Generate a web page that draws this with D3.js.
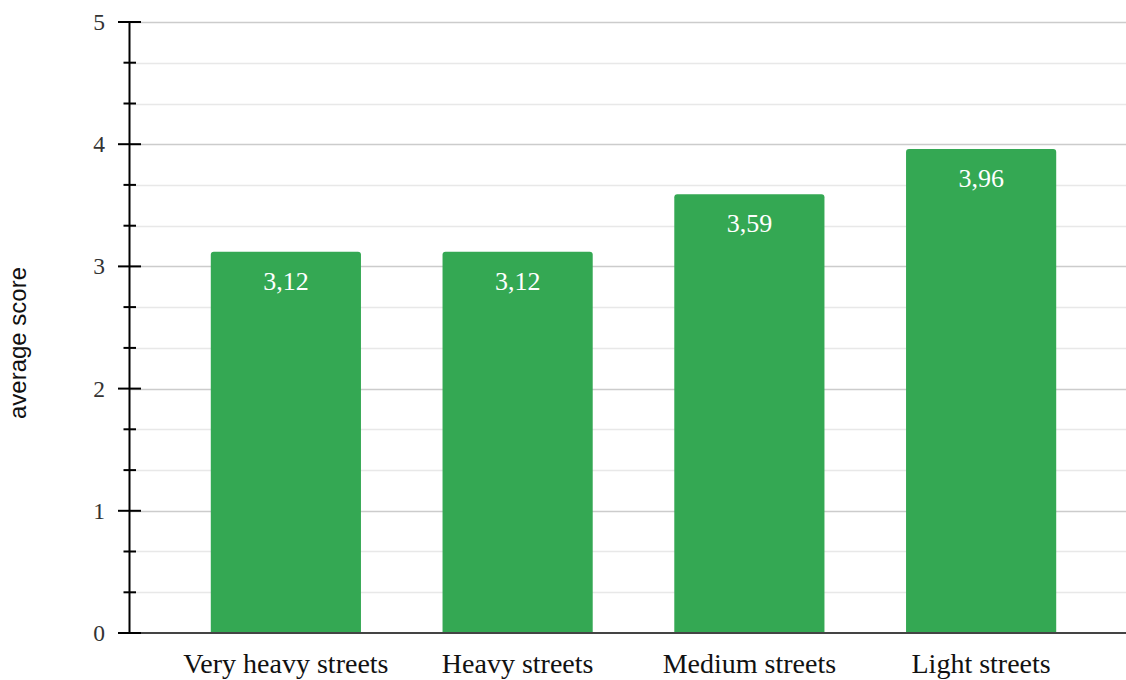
<!DOCTYPE html>
<html><head><meta charset="utf-8">
<script src="https://cdn.jsdelivr.net/npm/d3@7"></script>
<style>body{margin:0;background:#fff}svg{display:block}</style>
</head><body><svg id="c" width="1126" height="680"></svg>
<script>
const categories = ["Very heavy streets", "Heavy streets", "Medium streets", "Light streets"];
const values = [3.12, 3.12, 3.59, 3.96];
const valueLabels = ["3,12", "3,12", "3,59", "3,96"];
const majorTicks = [0, 1, 2, 3, 4, 5];
const minorTicks = [0.333, 0.667, 1.333, 1.667, 2.333, 2.667, 3.333, 3.667, 4.333, 4.667];
const yTitle = "average score";

(function () {
const svg = d3.select("#c");
const axisX = 129.5, rightEdge = 1126, plotTop = 22, plotBottom = 633;
const y = d3.scaleLinear().domain([0, 5]).range([plotBottom, plotTop]);
const x = d3.scaleBand().domain(categories).range([170, 1097]).paddingInner(0.352).paddingOuter(0.176);

// gridlines
svg.append("g").selectAll("line").data(minorTicks).join("line")
  .attr("x1", axisX).attr("x2", rightEdge)
  .attr("y1", d => Math.round(y(d)) + 0.5).attr("y2", d => Math.round(y(d)) + 0.5)
  .attr("stroke", "#e8e8e8").attr("stroke-width", 1.5);
svg.append("g").selectAll("line").data(majorTicks.filter(d => d > 0)).join("line")
  .attr("x1", axisX).attr("x2", rightEdge)
  .attr("y1", d => Math.round(y(d)) + 0.5).attr("y2", d => Math.round(y(d)) + 0.5)
  .attr("stroke", "#cccccc").attr("stroke-width", 1.5);

// bars with rounded top corners
const r = 3;
svg.append("g").selectAll("path").data(values).join("path")
  .attr("fill", "#34a853")
  .attr("d", (d, i) => {
    const x0 = x(categories[i]), w = x.bandwidth(), y0 = y(d), y1 = y(0);
    return `M${x0},${y1}V${y0 + r}Q${x0},${y0} ${x0 + r},${y0}H${x0 + w - r}Q${x0 + w},${y0} ${x0 + w},${y0 + r}V${y1}Z`;
  });

// value labels
svg.append("g").selectAll("text").data(values).join("text")
  .attr("x", (d, i) => x(categories[i]) + x.bandwidth() / 2)
  .attr("y", d => y(d) + 38)
  .attr("text-anchor", "middle")
  .attr("fill", "#ffffff")
  .style("font-family", "'Liberation Serif', 'Times New Roman', serif")
  .style("font-size", "26px")
  .text((d, i) => valueLabels[i]);

// baseline
svg.append("line").attr("x1", axisX).attr("x2", rightEdge)
  .attr("y1", y(0)).attr("y2", y(0)).attr("stroke", "#444").attr("stroke-width", 2);

// y axis line
svg.append("line").attr("x1", axisX).attr("x2", axisX)
  .attr("y1", y(5) - 1).attr("y2", y(0) + 1).attr("stroke", "#000").attr("stroke-width", 2);
// major ticks
svg.append("g").selectAll("line").data(majorTicks).join("line")
  .attr("x1", 118).attr("x2", 141)
  .attr("y1", d => y(d)).attr("y2", d => y(d))
  .attr("stroke", "#000").attr("stroke-width", 2);
// minor ticks
svg.append("g").selectAll("line").data(minorTicks).join("line")
  .attr("x1", 123.5).attr("x2", 136)
  .attr("y1", d => y(d)).attr("y2", d => y(d))
  .attr("stroke", "#000").attr("stroke-width", 2);
// tick labels
svg.append("g").selectAll("text").data(majorTicks).join("text")
  .attr("x", 105).attr("y", d => y(d) + 8)
  .attr("text-anchor", "end").attr("fill", "#333")
  .style("font-family", "'Liberation Serif', 'Times New Roman', serif")
  .style("font-size", "23.5px")
  .text(d => d);

// category labels
svg.append("g").selectAll("text").data(categories).join("text")
  .attr("x", d => x(d) + x.bandwidth() / 2).attr("y", 673)
  .attr("text-anchor", "middle").attr("fill", "#111")
  .style("font-family", "'Liberation Serif', 'Times New Roman', serif")
  .style("font-size", "28px")
  .text(d => d);

// y title
svg.append("text")
  .attr("transform", "translate(26,343) rotate(-90)")
  .attr("text-anchor", "middle").attr("fill", "#111")
  .style("font-family", "'Liberation Sans', Arial, sans-serif")
  .style("font-size", "24px")
  .text(yTitle);
})();
</script></body></html>
